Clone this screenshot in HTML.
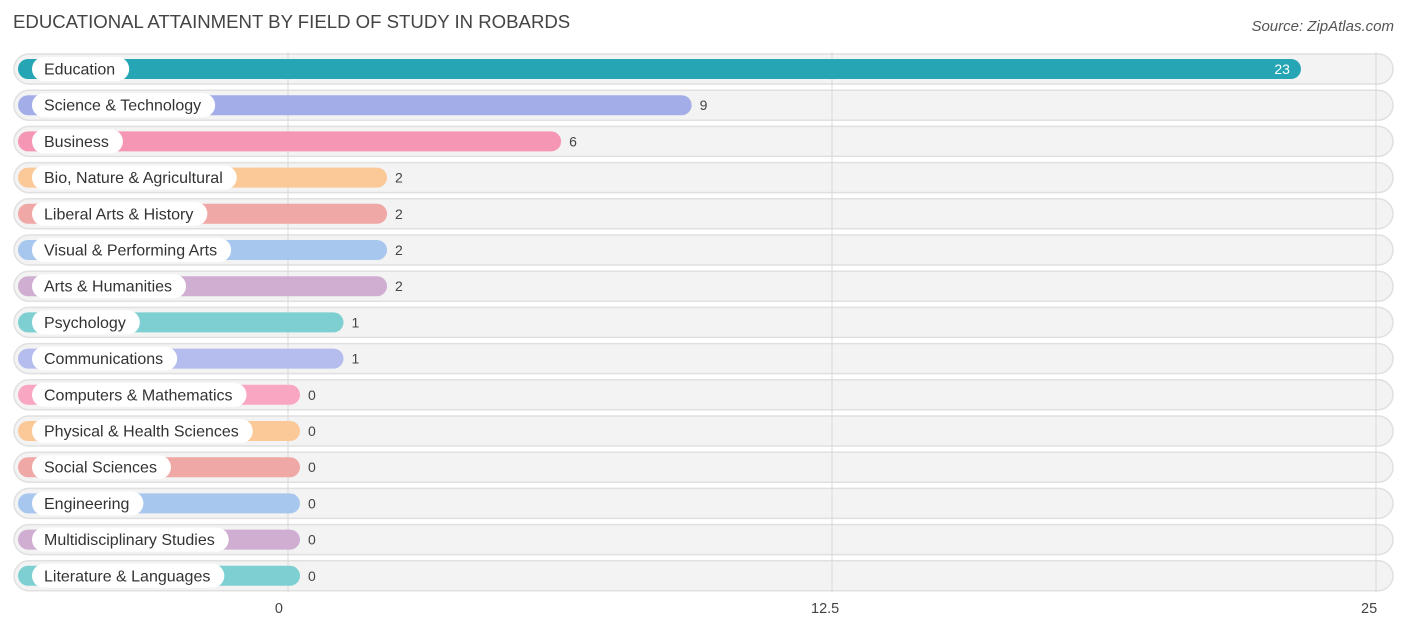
<!DOCTYPE html>
<html><head><meta charset="utf-8"><style>
body{margin:0;background:#fff;font-family:"Liberation Sans",sans-serif;}
svg text{font-family:"Liberation Sans",sans-serif;}
</style></head><body>
<svg id="c" width="1406" height="632">
<text x="13" y="28" font-size="18.6" fill="#444">EDUCATIONAL ATTAINMENT BY FIELD OF STUDY IN ROBARDS</text>
<text x="1394" y="31" font-size="15" fill="#555" font-style="italic" text-anchor="end">Source: ZipAtlas.com</text>
<g id="bgs"></g><g id="grid"></g><g id="rows"></g>
</svg>
<script>
const categories=["Education","Science & Technology","Business","Bio, Nature & Agricultural","Liberal Arts & History","Visual & Performing Arts","Arts & Humanities","Psychology","Communications","Computers & Mathematics","Physical & Health Sciences","Social Sciences","Engineering","Multidisciplinary Studies","Literature & Languages"];
const values=[23,9,6,2,2,2,2,1,1,0,0,0,0,0,0];
const ticks=[0,12.5,25];
const tickLabels=["0","12.5","25"];
const colors=["#26a6b5","#a3aee8","#f597b4","#fbc898","#f0a8a6","#a7c7ee","#cfaed2","#7dcfd2","#b5bdee","#f8a6c1","#fbc898","#f0a8a6","#a7c7ee","#cfaed2","#7dcfd2"];
const NS="http://www.w3.org/2000/svg";
const x=v=>288+v*(1376-288)/25;
const y=i=>69+i*36.2;
function mk(t,a,p){const e=document.createElementNS(NS,t);for(const k in a)e.setAttribute(k,a[k]);p.appendChild(e);return e;}
const bgs=document.getElementById('bgs'),grid=document.getElementById('grid'),rows=document.getElementById('rows');
categories.forEach((c,i)=>{
 const bg=mk('rect',{x:14,y:y(i)-15,width:1379,height:30,rx:15,fill:'#f3f3f3',stroke:'#e0e0e0','stroke-width':1.5},bgs);
 
 
});
ticks.forEach((t,i)=>{
 const l=mk('line',{x1:x(t),x2:x(t),y1:52,y2:592,stroke:'#d8d8d8','stroke-width':1},grid);
 
 
 const tx=mk('text',{x:i==0?x(t)-5:i==1?x(t)-21:x(t)-15,y:613,'font-size':14.5,fill:'#444','text-anchor':i==0?'end':'start'},grid);
 tx.textContent=tickLabels[i];
 
 
});
categories.forEach((c,i)=>{
 const cy=y(i);
 const g=mk('g',{},rows);
 
 
 const w=x(values[i])+12-18;
 const b=mk('rect',{x:18,y:cy-10,width:w,height:20,rx:10,fill:colors[i]},g);
 
 
 const p=mk('rect',{x:32,y:cy-12,width:100,height:24,rx:12,fill:'#fff'},g);
 
 
 const t=mk('text',{x:44,y:cy+5.5,'font-size':16,fill:'#333'},g);
 t.textContent=c;
 
 
 p.setAttribute('width',t.getComputedTextLength()+26);
 const inside=values[i]>=20;
 const v=mk('text',{x:inside?x(values[i])+1:x(values[i])+20,y:cy+5,'font-size':14,fill:inside?'#fff':'#444','text-anchor':inside?'end':'start'},g);
 v.textContent=values[i];
 
 
});
</script>
</body></html>
